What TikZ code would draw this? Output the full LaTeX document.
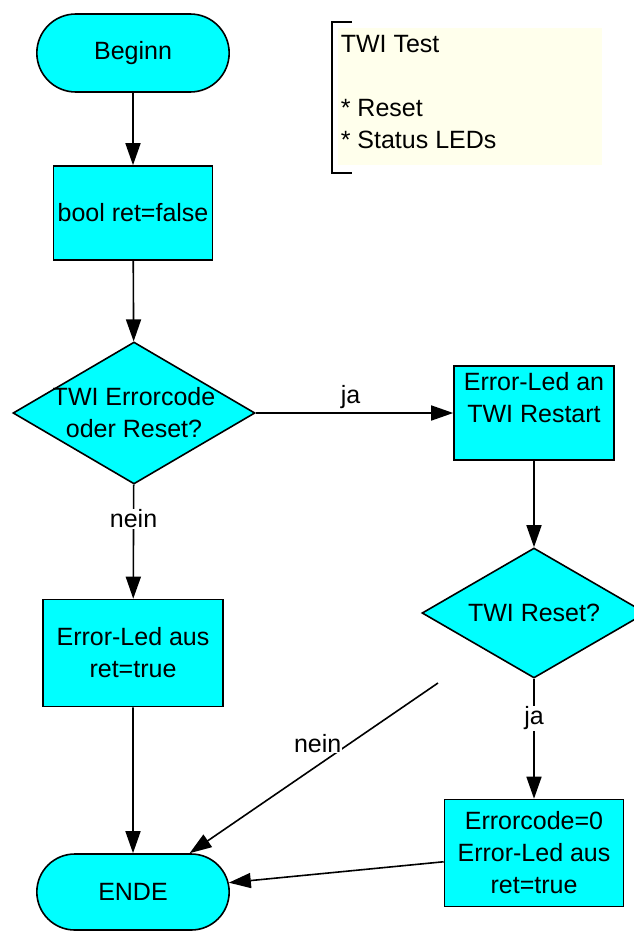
\documentclass[tikz,border=0pt]{standalone}
\usepackage{fontspec}
\setmainfont{Liberation Sans}
\usetikzlibrary{shapes.geometric,shapes.misc,arrows.meta}

\definecolor{flowcyan}{RGB}{0,255,255}
\definecolor{notecream}{RGB}{255,255,236}

\tikzset{
  term/.style={rounded rectangle, draw, fill=flowcyan, minimum width=199pt, minimum height=78pt},
  proc/.style={rectangle, draw, fill=flowcyan, align=center},
  decision/.style={diamond, draw, fill=flowcyan, inner sep=0pt},
  edgelabel/.style={fill=white, inner sep=1pt}
}

\begin{document}
\begin{tikzpicture}[x=1pt,y=-1pt,line width=1.6pt,>={Triangle[width=15pt,length=22pt]},
  font=\fontsize{25}{32}\selectfont]
\useasboundingbox (0,0) rectangle (634,932);
% note in the corner
\fill[notecream] (338,28) rectangle (602,165);
\draw (352,22) -- (332,22) -- (332,173) -- (352,173);
\node[anchor=north west, align=left, inner sep=0pt] (note) at (340,34) {TWI Test\\[32pt]{*} Reset\\{*} Status LEDs};
% left column
\node[term] (beginn) at (133,53) {Beginn};
\node[proc, minimum width=159pt, minimum height=94pt] (init) at (133,213) {bool ret=false};
\node[decision, minimum width=242pt, minimum height=142pt,
  label={[align=center]center:TWI Errorcode\\oder Reset?}] (errq) at (134,413) {};
\node[proc, minimum width=180pt, minimum height=107pt] (ledoff) at (133,653) {Error-Led aus\\ret=true};
\node[term, minimum height=76pt] (ende) at (133,892) {ENDE};
% right column
\node[proc, minimum width=160pt, minimum height=94pt,
  label={[align=center, anchor=north, inner sep=6pt]north:Error-Led an\\TWI Restart}] (restart) at (534,413) {};
\node[decision, minimum width=224pt, minimum height=130pt,
  label={center:TWI Reset?}] (resq) at (534,613) {};
\node[proc, minimum width=179pt, minimum height=107pt] (clear) at (534,853) {Errorcode=0\\Error-Led aus\\ret=true};
\coordinate (nofrom) at (438,683);
% connectors
\draw[->] (beginn) -- (init);
\draw[->] (init) -- (errq);
\draw[->] (errq) -- node[above, pos=0.48] {ja} (restart);
\draw[->] (errq) -- node[edgelabel, pos=0.3] {nein} (ledoff);
\draw[->] (ledoff) -- (ende);
\draw[->] (restart) -- (resq);
\draw[->] (resq) -- node[edgelabel, pos=0.33] {ja} (clear);
\draw[->] (clear) -- (ende);
\draw[->] (nofrom) -- node[edgelabel, pos=0.4, xshift=-21pt, yshift=8pt] {nein} (ende);
\end{tikzpicture}
\end{document}
